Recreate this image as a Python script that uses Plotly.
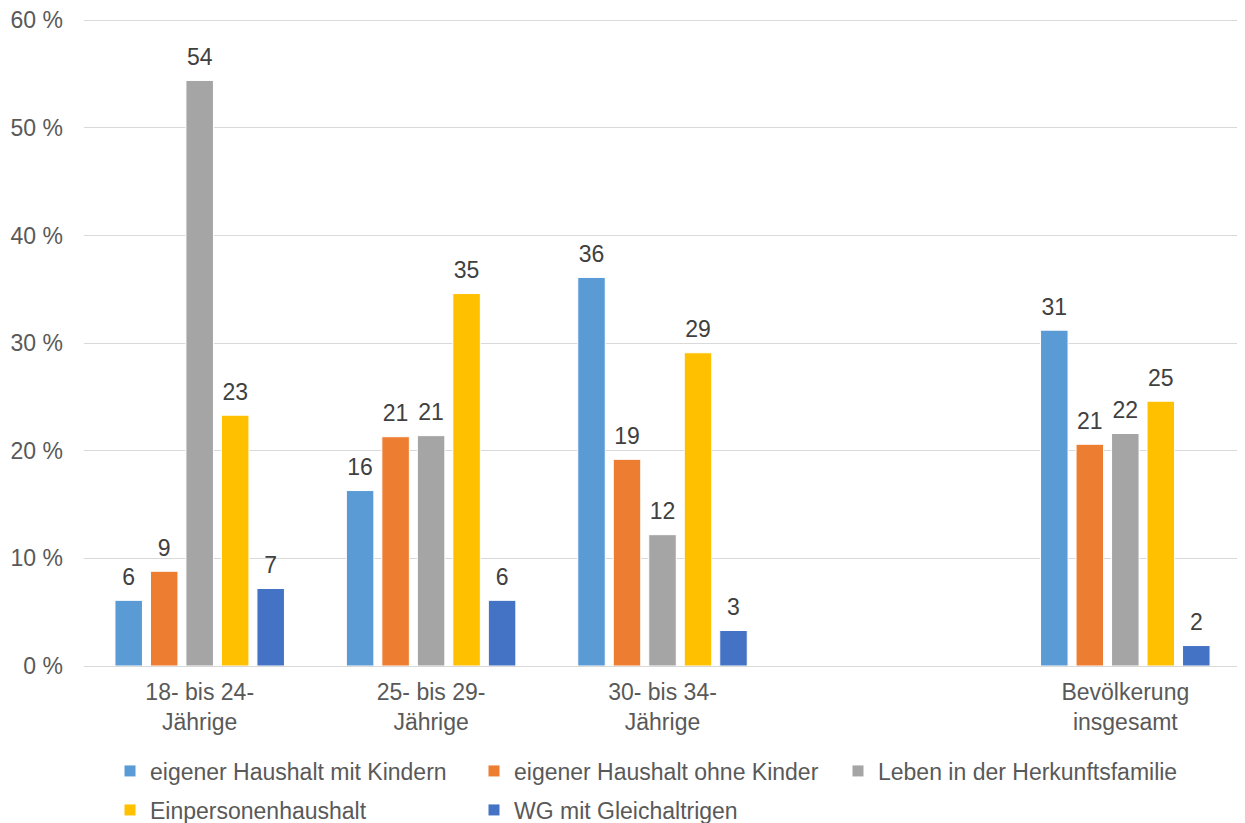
import plotly.graph_objects as go

categories = ["18- bis 24-<br>Jährige", "25- bis 29-<br>Jährige", "30- bis 34-<br>Jährige", " ", "Bevölkerung<br>insgesamt"]
series_names = ["eigener Haushalt mit Kindern", "eigener Haushalt ohne Kinder", "Leben in der Herkunftsfamilie",
                "Einpersonenhaushalt", "WG mit Gleichaltrigen"]
mit_kindern = [6.1, 16.3, 36.1, None, 31.2]
ohne_kinder = [8.8, 21.3, 19.2, None, 20.6]
herkunft = [54.4, 21.4, 12.2, None, 21.6]
einpersonen = [23.3, 34.6, 29.1, None, 24.6]
wg = [7.2, 6.1, 3.3, None, 1.9]
colors = ["#5B9BD5", "#ED7D31", "#A5A5A5", "#FFC000", "#4472C4"]
legend_rows = ["legend", "legend", "legend", "legend2", "legend2"]
y_ticks = [0, 10, 20, 30, 40, 50, 60]
y_ticktext = [f"{v} %" for v in y_ticks]

FONT = "Liberation Sans, Arial, sans-serif"
FS = 23
all_series = [mit_kindern, ohne_kinder, herkunft, einpersonen, wg]

# the page body adds an 8 px margin around the figure
W, H = 1237, 815

fig = go.Figure()
for name, vals, col, lg in zip(series_names, all_series, colors, legend_rows):
    fig.add_trace(go.Bar(
        name=name, x=categories, y=vals, legend=lg,
        marker=dict(color=col, line=dict(color="white", width=1)),
        hoverinfo="x+y+name",
    ))
# value labels, grouped like the bars
for name, vals in zip(series_names, all_series):
    fig.add_trace(go.Scatter(
        x=categories, y=vals, mode="markers+text",
        marker=dict(size=14, opacity=0),
        text=[f"{v:.0f}" if v is not None else "" for v in vals],
        textposition="top center",
        textfont=dict(family=FONT, size=FS, color="#404040"),
        showlegend=False, hoverinfo="skip", cliponaxis=False,
    ))

legend_common = dict(
    orientation="h", xanchor="left", yanchor="middle",
    xref="container", yref="container",
    entrywidth=319, entrywidthmode="pixels", itemwidth=30,
    font=dict(family=FONT, size=FS, color="#595959"),
    traceorder="normal", bgcolor="rgba(0,0,0,0)",
)
fig.update_layout(
    width=W, height=H,
    margin=dict(l=76, r=4, t=10, b=157, autoexpand=False),
    paper_bgcolor="white", plot_bgcolor="white",
    barmode="group", bargap=0.233, bargroupgap=0.225,
    scattermode="group", scattergap=0.233,
    font=dict(family=FONT, size=FS, color="#595959"),
    showlegend=True,
    legend=dict(x=102 / W, y=1 - 763 / H, **legend_common),
    legend2=dict(x=102 / W, y=1 - 802 / H, **legend_common),
    xaxis=dict(
        categoryorder="array", categoryarray=categories,
        showgrid=False, showline=True, linecolor="#D9D9D9", linewidth=1,
        ticks="", tickfont=dict(family=FONT, size=FS, color="#595959"),
        automargin=False, ticklabelstandoff=5,
    ),
    yaxis=dict(
        range=[0, 60.2], tickvals=y_ticks, ticktext=y_ticktext,
        showgrid=True, gridcolor="#D9D9D9", gridwidth=1,
        zeroline=False, showline=False, ticks="",
        tickfont=dict(family=FONT, size=FS, color="#595959"),
        automargin=False, ticklabelstandoff=20, ticklabeloverflow="allow",
    ),
)
fig.write_html("out.html")
